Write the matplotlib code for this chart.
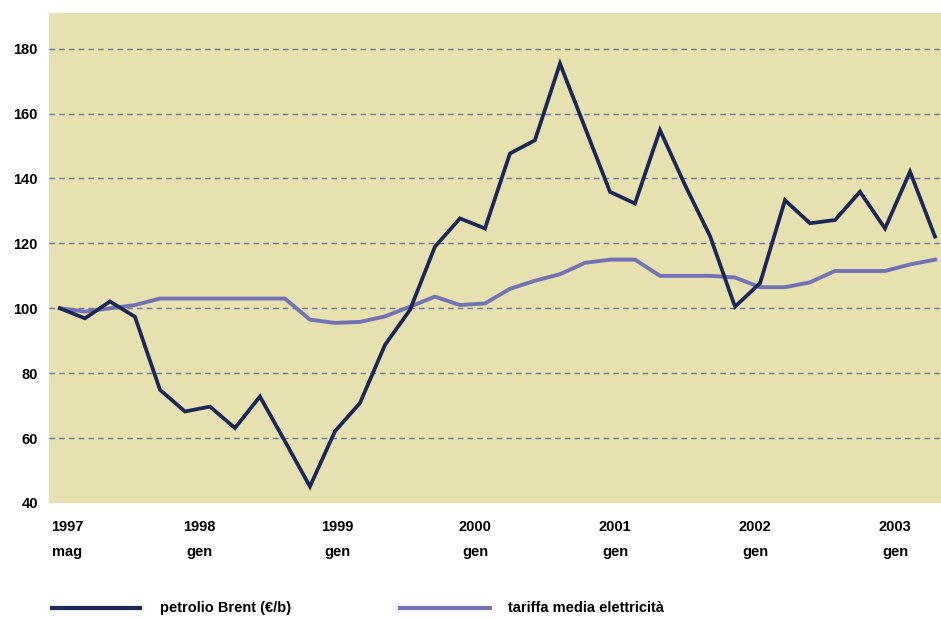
"""Brent crude vs. average electricity tariff, index (1997 mag = 100)."""
import numpy as np
import matplotlib
matplotlib.use("Agg")
import matplotlib.pyplot as plt
from matplotlib.lines import Line2D

plt.rcParams["font.family"] = ["Liberation Sans", "DejaVu Sans"]

# index values, one point every ~2 months from 1997 mag
brent = [100, 96.9, 102.1, 97.4, 74.9, 68.2, 69.7, 63.1, 72.8, 59.0,
         45.1, 62.1, 70.8, 88.7, 99.5, 119.0, 127.7, 124.6, 147.7, 151.8,
         175.4, 155.7, 135.9, 132.3, 154.9, 138.0, 122.3, 100.5, 107.7, 133.3,
         126.2, 127.2, 135.9, 124.6, 142.1, 122.1]
tariffa = [100, 99.0, 100.0, 101.0, 103.0, 103.0, 103.0, 103.0, 103.0, 103.0,
           96.5, 95.5, 95.8, 97.5, 100.5, 103.6, 101.0, 101.5, 106.0, 108.5,
           110.5, 114.0, 115.0, 115.0, 110.0, 110.0, 110.0, 109.5, 106.5, 106.5,
           108.0, 111.5, 111.5, 111.5, 113.5, 115.0]
tick_labels = ["1997\nmag", "1998\ngen", "1999\ngen", "2000\ngen",
               "2001\ngen", "2002\ngen", "2003\ngen"]
tick_pos = [0.28, 5.56, 11.1, 16.6, 22.2, 27.8, 33.4]  # label positions on the point index
y_ticks = [40, 60, 80, 100, 120, 140, 160, 180]
legend_labels = ["petrolio Brent (€/b)", "tariffa media elettricità"]

DARK = "#1b2758"
LIGHT = "#7272b6"

fig = plt.figure(figsize=(9.41, 6.19), dpi=100)
ax = fig.add_axes([0.052, 0.1874, 0.948, 0.7916])
ax.set_facecolor("#e6e1ae")

x = np.arange(len(brent))
ax.plot(x, tariffa, color=LIGHT, lw=2.8, solid_joinstyle="round", zorder=3)
ax.plot(x, brent, color=DARK, lw=2.7, solid_joinstyle="miter", zorder=4)

ax.set_xlim(-0.44, 35.24)
ax.set_ylim(40, 191)
ax.set_yticks(y_ticks)
for v in y_ticks[1:]:
    ax.axhline(v, color="#6b7898", lw=1.0, ls=(0, (4, 3)), zorder=2)

ax.set_xticks(tick_pos)
ax.set_xticklabels(tick_labels, linespacing=2.0)
ax.tick_params(axis="both", length=0, labelsize=10.5)
ax.tick_params(axis="x", pad=12)
ax.tick_params(axis="y", pad=8)
for lab in ax.get_xticklabels() + ax.get_yticklabels():
    lab.set_fontweight("bold")
for s in ax.spines.values():
    s.set_visible(False)

# legend row along the bottom edge
yl = 1 - 608 / 619
for (x0, x1), tx, col, lab in [((52, 140), 160, DARK, legend_labels[0]),
                               ((400, 490), 508, LIGHT, legend_labels[1])]:
    fig.add_artist(Line2D([x0 / 941, x1 / 941], [yl, yl], color=col, lw=3.0))
    fig.text(tx / 941, yl, lab, fontsize=10.5, fontweight="bold", va="center", ha="left")

fig.savefig("out.png", dpi=100)
